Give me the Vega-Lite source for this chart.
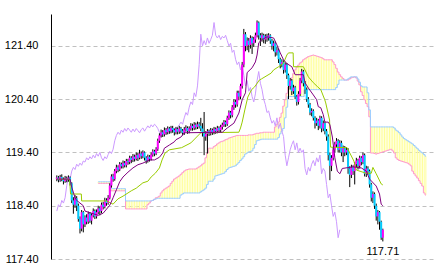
{
"$schema":"https://vega.github.io/schema/vega-lite/v6.json",
"width":384,"height":245,
"autosize":{"type":"none"},
"padding":{"left":51,"top":14,"right":0,"bottom":14},
"background":"#ffffff",
"config":{"view":{"stroke":null},
 "axisY":{"title":null,"grid":true,"gridColor":"#c0c0c0","gridDash":[4,3],"domainColor":"#000000","ticks":false,"labelPadding":13,"labelFont":"Liberation Sans","labelFontSize":11,"labelColor":"#000000"}},
"datasets":{
"k":[
{"i":0,"o":118.90,"h":118.97,"l":118.86,"c":118.93,"ch":118.30},
{"i":1,"o":118.93,"h":118.96,"l":118.84,"c":118.88,"ch":118.42},
{"i":2,"o":118.88,"h":118.98,"l":118.85,"c":118.94,"ch":118.38},
{"i":3,"o":118.94,"h":118.99,"l":118.86,"c":118.90,"ch":118.50},
{"i":4,"o":118.90,"h":118.93,"l":118.80,"c":118.86,"ch":118.45},
{"i":5,"o":118.86,"h":118.96,"l":118.83,"c":118.92,"ch":118.55},
{"i":6,"o":118.92,"h":118.95,"l":118.84,"c":118.89,"ch":118.78},
{"i":7,"o":118.89,"h":118.97,"l":118.85,"c":118.93,"ch":118.95},
{"i":8,"o":118.93,"h":118.95,"l":118.78,"c":118.82,"ch":118.90},
{"i":9,"o":118.82,"h":118.84,"l":118.45,"c":118.50,"ch":119.05},
{"i":10,"o":118.50,"h":118.56,"l":118.25,"c":118.42,"ch":119.12},
{"i":11,"o":118.42,"h":118.60,"l":118.36,"c":118.54,"ch":119.08},
{"i":12,"o":118.54,"h":118.58,"l":118.30,"c":118.40,"ch":119.18},
{"i":13,"o":118.40,"h":118.44,"l":118.10,"c":118.15,"ch":119.14},
{"i":14,"o":118.15,"h":118.20,"l":117.88,"c":117.97,"ch":119.20},
{"i":15,"o":117.97,"h":118.32,"l":117.92,"c":118.28,"ch":119.16},
{"i":16,"o":118.28,"h":118.30,"l":117.90,"c":118.05,"ch":119.24},
{"i":17,"o":118.05,"h":118.22,"l":118.00,"c":118.18,"ch":119.22},
{"i":18,"o":118.18,"h":118.24,"l":118.05,"c":118.10,"ch":119.30},
{"i":19,"o":118.10,"h":118.29,"l":118.06,"c":118.25,"ch":119.26},
{"i":20,"o":118.25,"h":118.28,"l":118.08,"c":118.12,"ch":119.32},
{"i":21,"o":118.12,"h":118.26,"l":118.05,"c":118.22,"ch":119.28},
{"i":22,"o":118.22,"h":118.35,"l":118.18,"c":118.30,"ch":119.35},
{"i":23,"o":118.30,"h":118.33,"l":118.15,"c":118.20,"ch":119.30},
{"i":24,"o":118.20,"h":118.33,"l":118.16,"c":118.28,"ch":119.38},
{"i":25,"o":118.28,"h":118.40,"l":118.24,"c":118.35,"ch":119.33},
{"i":26,"o":118.35,"h":118.39,"l":118.22,"c":118.30,"ch":119.40},
{"i":27,"o":118.30,"h":118.46,"l":118.26,"c":118.42,"ch":119.30},
{"i":28,"o":118.42,"h":118.47,"l":118.33,"c":118.38,"ch":119.25},
{"i":29,"o":118.38,"h":118.55,"l":118.35,"c":118.50,"ch":119.32},
{"i":30,"o":118.50,"h":118.54,"l":118.40,"c":118.45,"ch":119.28},
{"i":31,"o":118.45,"h":118.60,"l":118.42,"c":118.55,"ch":119.36},
{"i":32,"o":118.55,"h":118.82,"l":118.52,"c":118.78,"ch":119.42},
{"i":33,"o":118.78,"h":118.99,"l":118.74,"c":118.95,"ch":119.38},
{"i":34,"o":118.95,"h":119.00,"l":118.85,"c":118.90,"ch":119.46},
{"i":35,"o":118.90,"h":119.09,"l":118.87,"c":119.05,"ch":119.62},
{"i":36,"o":119.05,"h":119.17,"l":119.01,"c":119.12,"ch":119.72},
{"i":37,"o":119.12,"h":119.16,"l":119.03,"c":119.08,"ch":119.78},
{"i":38,"o":119.08,"h":119.22,"l":119.05,"c":119.18,"ch":119.74},
{"i":39,"o":119.18,"h":119.21,"l":119.10,"c":119.14,"ch":119.82},
{"i":40,"o":119.14,"h":119.25,"l":119.10,"c":119.20,"ch":119.78},
{"i":41,"o":119.20,"h":119.24,"l":119.12,"c":119.16,"ch":119.85},
{"i":42,"o":119.16,"h":119.28,"l":119.12,"c":119.24,"ch":119.80},
{"i":43,"o":119.24,"h":119.28,"l":119.17,"c":119.22,"ch":119.86},
{"i":44,"o":119.22,"h":119.34,"l":119.18,"c":119.30,"ch":119.82},
{"i":45,"o":119.30,"h":119.33,"l":119.20,"c":119.26,"ch":119.78},
{"i":46,"o":119.26,"h":119.37,"l":119.22,"c":119.32,"ch":119.84},
{"i":47,"o":119.32,"h":119.36,"l":119.23,"c":119.28,"ch":119.79},
{"i":48,"o":119.28,"h":119.40,"l":119.25,"c":119.35,"ch":119.85},
{"i":49,"o":119.35,"h":119.39,"l":119.24,"c":119.30,"ch":119.81},
{"i":50,"o":119.30,"h":119.45,"l":119.27,"c":119.38,"ch":119.77},
{"i":51,"o":119.38,"h":119.42,"l":119.28,"c":119.33,"ch":119.83},
{"i":52,"o":119.33,"h":119.44,"l":119.29,"c":119.40,"ch":119.86},
{"i":53,"o":119.40,"h":119.42,"l":119.25,"c":119.30,"ch":119.80},
{"i":54,"o":119.30,"h":119.33,"l":119.19,"c":119.25,"ch":119.85},
{"i":55,"o":119.25,"h":119.36,"l":119.21,"c":119.32,"ch":119.90},
{"i":56,"o":119.32,"h":119.35,"l":119.23,"c":119.28,"ch":119.86},
{"i":57,"o":119.28,"h":119.40,"l":119.25,"c":119.36,"ch":119.92},
{"i":58,"o":119.36,"h":119.46,"l":119.32,"c":119.42,"ch":119.88},
{"i":59,"o":119.42,"h":119.45,"l":119.33,"c":119.38,"ch":119.93},
{"i":60,"o":119.38,"h":119.50,"l":119.35,"c":119.46,"ch":119.90},
{"i":61,"o":119.46,"h":119.66,"l":119.43,"c":119.62,"ch":119.85},
{"i":62,"o":119.62,"h":119.76,"l":119.58,"c":119.72,"ch":119.78},
{"i":63,"o":119.72,"h":119.83,"l":119.68,"c":119.78,"ch":119.70},
{"i":64,"o":119.78,"h":119.82,"l":119.69,"c":119.74,"ch":119.75},
{"i":65,"o":119.74,"h":119.87,"l":119.70,"c":119.82,"ch":119.80},
{"i":66,"o":119.82,"h":119.86,"l":119.73,"c":119.78,"ch":119.76},
{"i":67,"o":119.78,"h":119.89,"l":119.74,"c":119.85,"ch":119.82},
{"i":68,"o":119.85,"h":119.88,"l":119.75,"c":119.80,"ch":119.78},
{"i":69,"o":119.80,"h":119.90,"l":119.76,"c":119.86,"ch":119.84},
{"i":70,"o":119.86,"h":119.90,"l":119.77,"c":119.82,"ch":119.80},
{"i":71,"o":119.82,"h":119.85,"l":119.72,"c":119.78,"ch":119.86},
{"i":72,"o":119.78,"h":119.88,"l":119.74,"c":119.84,"ch":119.82},
{"i":73,"o":119.84,"h":119.87,"l":119.74,"c":119.79,"ch":119.88},
{"i":74,"o":119.79,"h":119.90,"l":119.75,"c":119.85,"ch":119.92},
{"i":75,"o":119.85,"h":119.88,"l":119.76,"c":119.81,"ch":119.97},
{"i":76,"o":119.81,"h":119.84,"l":119.72,"c":119.77,"ch":119.93},
{"i":77,"o":119.77,"h":119.88,"l":119.73,"c":119.83,"ch":120.05},
{"i":78,"o":119.83,"h":119.91,"l":119.79,"c":119.86,"ch":120.15},
{"i":79,"o":119.86,"h":119.89,"l":119.75,"c":119.80,"ch":120.10},
{"i":80,"o":119.80,"h":119.89,"l":119.76,"c":119.85,"ch":120.25},
{"i":81,"o":119.85,"h":119.95,"l":119.81,"c":119.90,"ch":120.35},
{"i":82,"o":119.90,"h":119.94,"l":119.81,"c":119.86,"ch":120.30},
{"i":83,"o":119.86,"h":119.97,"l":119.82,"c":119.92,"ch":120.52},
{"i":84,"o":119.92,"h":119.96,"l":119.83,"c":119.88,"ch":120.45},
{"i":85,"o":119.88,"h":119.98,"l":119.84,"c":119.93,"ch":120.65},
{"i":86,"o":119.93,"h":119.97,"l":119.85,"c":119.90,"ch":121.05},
{"i":87,"o":119.90,"h":120.05,"l":119.80,"c":119.85,"ch":121.62},
{"i":88,"o":119.85,"h":119.95,"l":119.70,"c":119.78,"ch":121.40},
{"i":89,"o":119.78,"h":120.16,"l":119.35,"c":119.70,"ch":121.50},
{"i":90,"o":119.70,"h":119.80,"l":119.62,"c":119.75,"ch":121.42},
{"i":91,"o":119.75,"h":119.84,"l":119.38,"c":119.80,"ch":121.55},
{"i":92,"o":119.80,"h":119.83,"l":119.71,"c":119.76,"ch":121.45},
{"i":93,"o":119.76,"h":119.86,"l":119.72,"c":119.82,"ch":121.52},
{"i":94,"o":119.82,"h":119.85,"l":119.73,"c":119.78,"ch":121.60},
{"i":95,"o":119.78,"h":119.88,"l":119.74,"c":119.84,"ch":121.84},
{"i":96,"o":119.84,"h":119.87,"l":119.75,"c":119.80,"ch":121.60},
{"i":97,"o":119.80,"h":119.90,"l":119.76,"c":119.86,"ch":121.55},
{"i":98,"o":119.86,"h":119.89,"l":119.77,"c":119.82,"ch":121.60},
{"i":99,"o":119.82,"h":119.92,"l":119.78,"c":119.88,"ch":121.52},
{"i":100,"o":119.88,"h":119.96,"l":119.83,"c":119.92,"ch":121.58},
{"i":101,"o":119.92,"h":120.01,"l":119.88,"c":119.97,"ch":121.55},
{"i":102,"o":119.97,"h":120.00,"l":119.88,"c":119.93,"ch":121.60},
{"i":103,"o":119.93,"h":120.09,"l":119.90,"c":120.05,"ch":121.50},
{"i":104,"o":120.05,"h":120.19,"l":120.01,"c":120.15,"ch":121.40},
{"i":105,"o":120.15,"h":120.18,"l":120.04,"c":120.10,"ch":121.45},
{"i":106,"o":120.10,"h":120.29,"l":120.06,"c":120.25,"ch":121.28},
{"i":107,"o":120.25,"h":120.40,"l":120.20,"c":120.35,"ch":121.32},
{"i":108,"o":120.35,"h":120.39,"l":120.24,"c":120.30,"ch":121.15},
{"i":109,"o":120.30,"h":120.56,"l":120.26,"c":120.52,"ch":121.05},
{"i":110,"o":120.52,"h":120.56,"l":120.38,"c":120.45,"ch":121.10},
{"i":111,"o":120.45,"h":120.69,"l":120.40,"c":120.65,"ch":120.95},
{"i":112,"o":120.65,"h":121.10,"l":120.60,"c":121.05,"ch":121.05},
{"i":113,"o":121.05,"h":121.72,"l":121.00,"c":121.62,"ch":120.85},
{"i":114,"o":121.62,"h":121.66,"l":121.30,"c":121.40,"ch":120.65},
{"i":115,"o":121.40,"h":121.56,"l":121.32,"c":121.50,"ch":120.75},
{"i":116,"o":121.50,"h":121.55,"l":121.28,"c":121.42,"ch":120.55},
{"i":117,"o":121.42,"h":121.60,"l":121.35,"c":121.55,"ch":120.62},
{"i":118,"o":121.55,"h":121.58,"l":121.25,"c":121.45,"ch":120.45},
{"i":119,"o":121.45,"h":121.57,"l":121.38,"c":121.52,"ch":120.35},
{"i":120,"o":121.52,"h":121.65,"l":121.46,"c":121.60,"ch":120.50},
{"i":121,"o":121.60,"h":121.88,"l":121.56,"c":121.84,"ch":120.75},
{"i":122,"o":121.84,"h":121.86,"l":121.52,"c":121.60,"ch":120.92},
{"i":123,"o":121.60,"h":121.64,"l":121.40,"c":121.55,"ch":120.70},
{"i":124,"o":121.55,"h":121.65,"l":121.48,"c":121.60,"ch":120.58},
{"i":125,"o":121.60,"h":121.63,"l":121.45,"c":121.52,"ch":120.40},
{"i":126,"o":121.52,"h":121.62,"l":121.44,"c":121.58,"ch":120.30},
{"i":127,"o":121.58,"h":121.63,"l":121.48,"c":121.55,"ch":120.15},
{"i":128,"o":121.55,"h":121.64,"l":121.50,"c":121.60,"ch":120.18},
{"i":129,"o":121.60,"h":121.62,"l":121.44,"c":121.50,"ch":120.05},
{"i":130,"o":121.50,"h":121.53,"l":121.33,"c":121.40,"ch":119.95},
{"i":131,"o":121.40,"h":121.50,"l":121.30,"c":121.45,"ch":120.00},
{"i":132,"o":121.45,"h":121.48,"l":121.20,"c":121.28,"ch":119.90},
{"i":133,"o":121.28,"h":121.38,"l":121.22,"c":121.32,"ch":120.05},
{"i":134,"o":121.32,"h":121.35,"l":121.08,"c":121.15,"ch":119.85},
{"i":135,"o":121.15,"h":121.18,"l":120.98,"c":121.05,"ch":119.95},
{"i":136,"o":121.05,"h":121.15,"l":121.00,"c":121.10,"ch":119.80},
{"i":137,"o":121.10,"h":121.13,"l":120.88,"c":120.95,"ch":119.70},
{"i":138,"o":120.95,"h":121.09,"l":120.90,"c":121.05,"ch":119.35},
{"i":139,"o":121.05,"h":121.08,"l":120.78,"c":120.85,"ch":119.15},
{"i":140,"o":120.85,"h":120.88,"l":120.40,"c":120.65,"ch":119.30},
{"i":141,"o":120.65,"h":120.80,"l":120.58,"c":120.75,"ch":119.45},
{"i":142,"o":120.75,"h":120.78,"l":120.48,"c":120.55,"ch":119.55},
{"i":143,"o":120.55,"h":120.67,"l":120.50,"c":120.62,"ch":119.62},
{"i":144,"o":120.62,"h":120.65,"l":120.40,"c":120.45,"ch":119.45},
{"i":145,"o":120.45,"h":120.48,"l":120.28,"c":120.35,"ch":119.58},
{"i":146,"o":120.35,"h":120.55,"l":120.30,"c":120.50,"ch":119.40},
{"i":147,"o":120.50,"h":120.80,"l":120.46,"c":120.75,"ch":119.48},
{"i":148,"o":120.75,"h":120.97,"l":120.70,"c":120.92,"ch":119.40},
{"i":149,"o":120.92,"h":120.95,"l":120.64,"c":120.70,"ch":119.45},
{"i":150,"o":120.70,"h":120.74,"l":120.50,"c":120.58,"ch":119.10},
{"i":151,"o":120.58,"h":120.62,"l":120.35,"c":120.40,"ch":118.98},
{"i":152,"o":120.40,"h":120.44,"l":120.24,"c":120.30,"ch":119.12},
{"i":153,"o":120.30,"h":120.33,"l":120.10,"c":120.15,"ch":119.05},
{"i":154,"o":120.15,"h":120.23,"l":120.08,"c":120.18,"ch":119.18},
{"i":155,"o":120.18,"h":120.21,"l":120.00,"c":120.05,"ch":119.25},
{"i":156,"o":120.05,"h":120.08,"l":119.85,"c":119.95,"ch":119.15},
{"i":157,"o":119.95,"h":120.05,"l":119.90,"c":120.00,"ch":119.30},
{"i":158,"o":120.00,"h":120.03,"l":119.82,"c":119.90,"ch":119.22},
{"i":159,"o":119.90,"h":120.09,"l":119.85,"c":120.05,"ch":119.35},
{"i":160,"o":120.05,"h":120.08,"l":119.78,"c":119.85,"ch":119.00},
{"i":161,"o":119.85,"h":120.00,"l":119.80,"c":119.95,"ch":119.10},
{"i":162,"o":119.95,"h":119.98,"l":119.74,"c":119.80,"ch":119.05},
{"i":163,"o":119.80,"h":119.84,"l":119.62,"c":119.70,"ch":118.80},
{"i":164,"o":119.70,"h":119.74,"l":119.25,"c":119.35,"ch":118.55},
{"i":165,"o":119.35,"h":119.40,"l":118.88,"c":119.15,"ch":118.62},
{"i":166,"o":119.15,"h":119.35,"l":119.05,"c":119.30,"ch":118.40},
{"i":167,"o":119.30,"h":119.50,"l":119.25,"c":119.45,"ch":118.20},
{"i":168,"o":119.45,"h":119.60,"l":119.40,"c":119.55,"ch":118.28},
{"i":169,"o":119.55,"h":119.67,"l":119.50,"c":119.62,"ch":118.10},
{"i":170,"o":119.62,"h":119.65,"l":119.40,"c":119.45,"ch":117.80},
{"i":171,"o":119.45,"h":119.63,"l":119.40,"c":119.58,"ch":117.95},
{"i":172,"o":119.58,"h":119.62,"l":119.33,"c":119.40},
{"i":173,"o":119.40,"h":119.53,"l":119.22,"c":119.48},
{"i":174,"o":119.48,"h":119.52,"l":119.33,"c":119.40},
{"i":175,"o":119.40,"h":119.50,"l":119.35,"c":119.45},
{"i":176,"o":119.45,"h":119.48,"l":119.00,"c":119.10},
{"i":177,"o":119.10,"h":119.14,"l":118.75,"c":118.98},
{"i":178,"o":118.98,"h":119.17,"l":118.92,"c":119.12},
{"i":179,"o":119.12,"h":119.16,"l":118.98,"c":119.05},
{"i":180,"o":119.05,"h":119.22,"l":118.80,"c":119.18},
{"i":181,"o":119.18,"h":119.30,"l":119.12,"c":119.25},
{"i":182,"o":119.25,"h":119.28,"l":119.08,"c":119.15},
{"i":183,"o":119.15,"h":119.34,"l":119.10,"c":119.30},
{"i":184,"o":119.30,"h":119.33,"l":119.16,"c":119.22},
{"i":185,"o":119.22,"h":119.40,"l":119.18,"c":119.35},
{"i":186,"o":119.35,"h":119.38,"l":118.95,"c":119.00},
{"i":187,"o":119.00,"h":119.15,"l":118.94,"c":119.10},
{"i":188,"o":119.10,"h":119.14,"l":118.98,"c":119.05},
{"i":189,"o":119.05,"h":119.08,"l":118.74,"c":118.80},
{"i":190,"o":118.80,"h":118.83,"l":118.48,"c":118.55},
{"i":191,"o":118.55,"h":118.67,"l":118.45,"c":118.62},
{"i":192,"o":118.62,"h":118.65,"l":118.34,"c":118.40},
{"i":193,"o":118.40,"h":118.44,"l":118.12,"c":118.20},
{"i":194,"o":118.20,"h":118.32,"l":118.05,"c":118.28},
{"i":195,"o":118.28,"h":118.30,"l":117.95,"c":118.10},
{"i":196,"o":118.10,"h":118.12,"l":117.76,"c":117.80},
{"i":197,"o":117.80,"h":117.97,"l":117.73,"c":117.95}
],
"cl":[
{"i":25,"a":118.82,"b":118.85},{"i":26,"a":118.82,"b":118.85},{"i":27,"a":118.82,"b":118.85},{"i":28,"a":118.82,"b":118.85},
{"i":29,"a":118.82,"b":118.85},{"i":30,"a":118.82,"b":118.85},{"i":31,"a":118.82,"b":118.85},{"i":32,"a":118.82,"b":118.85},
{"i":33,"a":118.68,"b":118.72},{"i":34,"a":118.68,"b":118.72},{"i":35,"a":118.68,"b":118.72},{"i":36,"a":118.68,"b":118.72},
{"i":37,"a":118.68,"b":118.72},{"i":38,"a":118.68,"b":118.72},{"i":39,"a":118.68,"b":118.72},{"i":40,"a":118.68,"b":118.72},
{"i":41,"a":118.68,"b":118.72},
{"i":42,"a":118.34,"b":118.49},{"i":43,"a":118.34,"b":118.49},{"i":44,"a":118.34,"b":118.49},{"i":45,"a":118.34,"b":118.49},
{"i":46,"a":118.34,"b":118.49},{"i":47,"a":118.34,"b":118.49},{"i":48,"a":118.34,"b":118.49},{"i":49,"a":118.34,"b":118.49},
{"i":50,"a":118.34,"b":118.49},{"i":51,"a":118.34,"b":118.49},{"i":52,"a":118.34,"b":118.49},{"i":53,"a":118.34,"b":118.49},
{"i":54,"a":118.34,"b":118.49},
{"i":55,"a":118.42,"b":118.49},{"i":56,"a":118.45,"b":118.49},{"i":57,"a":118.49,"b":118.49},{"i":58,"a":118.50,"b":118.50},
{"i":59,"a":118.52,"b":118.52},{"i":60,"a":118.55,"b":118.53},{"i":61,"a":118.56,"b":118.54},{"i":62,"a":118.58,"b":118.54},
{"i":63,"a":118.64,"b":118.54},{"i":64,"a":118.68,"b":118.54},{"i":65,"a":118.71,"b":118.54},{"i":66,"a":118.73,"b":118.54},
{"i":67,"a":118.75,"b":118.54},{"i":68,"a":118.77,"b":118.54},{"i":69,"a":118.82,"b":118.54},{"i":70,"a":118.86,"b":118.54},
{"i":71,"a":118.90,"b":118.54},{"i":72,"a":118.92,"b":118.54},{"i":73,"a":118.94,"b":118.54},{"i":74,"a":118.96,"b":118.54},
{"i":75,"a":118.99,"b":118.60},{"i":76,"a":119.02,"b":118.62},{"i":77,"a":119.05,"b":118.64},{"i":78,"a":119.07,"b":118.64},
{"i":79,"a":119.08,"b":118.64},{"i":80,"a":119.09,"b":118.64},{"i":81,"a":119.09,"b":118.64},{"i":82,"a":119.09,"b":118.64},
{"i":83,"a":119.09,"b":118.64},{"i":84,"a":119.09,"b":118.64},{"i":85,"a":119.11,"b":118.64},{"i":86,"a":119.13,"b":118.64},
{"i":87,"a":119.15,"b":118.66},{"i":88,"a":119.18,"b":118.68},{"i":89,"a":119.20,"b":118.70},{"i":90,"a":119.30,"b":118.73},
{"i":91,"a":119.39,"b":118.80},{"i":92,"a":119.48,"b":118.86},{"i":93,"a":119.48,"b":118.86},{"i":94,"a":119.48,"b":118.86},
{"i":95,"a":119.51,"b":118.90},{"i":96,"a":119.53,"b":118.96},{"i":97,"a":119.56,"b":118.97},{"i":98,"a":119.58,"b":118.98},
{"i":99,"a":119.60,"b":118.99},{"i":100,"a":119.61,"b":119.00},{"i":101,"a":119.62,"b":119.01},{"i":102,"a":119.64,"b":119.04},
{"i":103,"a":119.65,"b":119.08},{"i":104,"a":119.67,"b":119.11},{"i":105,"a":119.68,"b":119.12},{"i":106,"a":119.69,"b":119.13},
{"i":107,"a":119.70,"b":119.14},{"i":108,"a":119.71,"b":119.15},{"i":109,"a":119.72,"b":119.18},{"i":110,"a":119.72,"b":119.21},
{"i":111,"a":119.72,"b":119.25},{"i":112,"a":119.72,"b":119.28},{"i":113,"a":119.72,"b":119.32},{"i":114,"a":119.72,"b":119.37},
{"i":115,"a":119.72,"b":119.39},{"i":116,"a":119.73,"b":119.41},{"i":117,"a":119.73,"b":119.42},{"i":118,"a":119.73,"b":119.43},
{"i":119,"a":119.74,"b":119.48},{"i":120,"a":119.75,"b":119.55},{"i":121,"a":119.76,"b":119.62},{"i":122,"a":119.76,"b":119.63},
{"i":123,"a":119.77,"b":119.64},{"i":124,"a":119.77,"b":119.65},{"i":125,"a":119.78,"b":119.65},{"i":126,"a":119.78,"b":119.65},
{"i":127,"a":119.78,"b":119.65},{"i":128,"a":119.78,"b":119.65},{"i":129,"a":119.78,"b":119.65},{"i":130,"a":119.78,"b":119.65},
{"i":131,"a":119.78,"b":119.65},{"i":132,"a":119.88,"b":119.65},{"i":133,"a":119.93,"b":119.65},{"i":134,"a":119.97,"b":119.68},
{"i":135,"a":120.06,"b":119.75},{"i":136,"a":120.14,"b":119.80},{"i":137,"a":120.27,"b":119.85},{"i":138,"a":120.39,"b":120.05},
{"i":139,"a":120.51,"b":120.25},{"i":140,"a":120.63,"b":120.45},{"i":141,"a":120.72,"b":120.45},{"i":142,"a":120.80,"b":120.45},
{"i":143,"a":120.88,"b":120.45},{"i":144,"a":120.95,"b":120.45},{"i":145,"a":121.00,"b":120.45},{"i":146,"a":121.04,"b":120.45},
{"i":147,"a":121.08,"b":120.45},{"i":148,"a":121.10,"b":120.45},{"i":149,"a":121.14,"b":120.45},{"i":150,"a":121.16,"b":120.58},
{"i":151,"a":121.18,"b":120.58},{"i":152,"a":121.20,"b":120.58},{"i":153,"a":121.21,"b":120.58},{"i":154,"a":121.22,"b":120.58},
{"i":155,"a":121.23,"b":120.58},{"i":156,"a":121.22,"b":120.58},{"i":157,"a":121.21,"b":120.58},{"i":158,"a":121.20,"b":120.58},
{"i":159,"a":121.19,"b":120.58},{"i":160,"a":121.18,"b":120.58},{"i":161,"a":121.16,"b":120.58},{"i":162,"a":121.14,"b":120.58},
{"i":163,"a":121.14,"b":120.58},{"i":164,"a":121.14,"b":120.58},{"i":165,"a":121.14,"b":120.58},{"i":166,"a":121.14,"b":120.58},
{"i":167,"a":121.10,"b":120.58},{"i":168,"a":121.05,"b":120.58},{"i":169,"a":120.98,"b":120.62},{"i":170,"a":120.91,"b":120.68},
{"i":171,"a":120.86,"b":120.76},{"i":172,"a":120.82,"b":120.76},{"i":173,"a":120.79,"b":120.76},{"i":174,"a":120.76,"b":120.76},
{"i":175,"a":120.76,"b":120.76},{"i":176,"a":120.76,"b":120.78},{"i":177,"a":120.78,"b":120.80},{"i":178,"a":120.80,"b":120.82},
{"i":179,"a":120.81,"b":120.82},{"i":180,"a":120.82,"b":120.82},{"i":181,"a":120.80,"b":120.82},{"i":182,"a":120.74,"b":120.78},
{"i":183,"a":120.67,"b":120.72},{"i":184,"a":120.54,"b":120.65},{"i":185,"a":120.47,"b":120.63},{"i":186,"a":120.39,"b":120.63},
{"i":187,"a":120.32,"b":120.63},{"i":188,"a":120.26,"b":120.52},{"i":189,"a":120.07,"b":120.20},{"i":190,"a":119.39,"b":119.88},
{"i":191,"a":119.39,"b":119.88},{"i":192,"a":119.38,"b":119.88},{"i":193,"a":119.37,"b":119.88},{"i":194,"a":119.38,"b":119.88},
{"i":195,"a":119.39,"b":119.88},{"i":196,"a":119.40,"b":119.88},{"i":197,"a":119.41,"b":119.88},{"i":198,"a":119.42,"b":119.88},
{"i":199,"a":119.43,"b":119.88},{"i":200,"a":119.44,"b":119.88},{"i":201,"a":119.45,"b":119.88},{"i":202,"a":119.46,"b":119.88},
{"i":203,"a":119.43,"b":119.88},{"i":204,"a":119.39,"b":119.86},{"i":205,"a":119.30,"b":119.82},{"i":206,"a":119.27,"b":119.80},
{"i":207,"a":119.25,"b":119.77},{"i":208,"a":119.24,"b":119.73},{"i":209,"a":119.23,"b":119.69},{"i":210,"a":119.22,"b":119.66},
{"i":211,"a":119.21,"b":119.64},{"i":212,"a":119.20,"b":119.62},{"i":213,"a":119.18,"b":119.60},{"i":214,"a":119.15,"b":119.58},
{"i":215,"a":119.05,"b":119.56},{"i":216,"a":119.00,"b":119.53},{"i":217,"a":118.96,"b":119.50},{"i":218,"a":118.92,"b":119.47},
{"i":219,"a":118.87,"b":119.44},{"i":220,"a":118.82,"b":119.41},{"i":221,"a":118.77,"b":119.39},{"i":222,"a":118.64,"b":119.36},
{"i":223,"a":118.60,"b":119.33}
],
"tk":[
{"i":0,"v":118.90},{"i":8,"v":118.90},{"i":9,"v":118.75},{"i":11,"v":118.55},{"i":12,"v":118.50},{"i":16,"v":118.40},{"i":17,"v":118.30},
{"i":25,"v":118.22},{"i":28,"v":118.26},{"i":32,"v":118.41},{"i":34,"v":118.55},{"i":36,"v":118.70},{"i":38,"v":118.85},{"i":40,"v":118.94},
{"i":43,"v":119.03},{"i":46,"v":119.11},{"i":49,"v":119.17},{"i":52,"v":119.20},{"i":56,"v":119.26},{"i":59,"v":119.26},{"i":62,"v":119.31},
{"i":64,"v":119.39},{"i":65,"v":119.48},{"i":68,"v":119.54},{"i":71,"v":119.60},{"i":72,"v":119.64},{"i":75,"v":119.69},{"i":77,"v":119.77},
{"i":100,"v":119.78},{"i":103,"v":119.86},{"i":107,"v":119.95},{"i":110,"v":120.14},{"i":112,"v":120.39},{"i":114,"v":120.52},{"i":115,"v":120.90},
{"i":118,"v":120.99},{"i":120,"v":121.10},{"i":121,"v":121.23},{"i":122,"v":121.46},{"i":124,"v":121.52},{"i":127,"v":121.57},{"i":131,"v":121.55},
{"i":133,"v":121.42},{"i":135,"v":121.27},{"i":137,"v":121.14},{"i":139,"v":121.07},{"i":142,"v":121.01},{"i":144,"v":120.86},{"i":149,"v":120.86},
{"i":150,"v":120.71},{"i":152,"v":120.61},{"i":155,"v":120.48},{"i":157,"v":120.39},{"i":158,"v":120.26},{"i":159.5,"v":120.24},{"i":161,"v":120.11},
{"i":162,"v":119.97},{"i":164,"v":119.97},{"i":165,"v":119.92},{"i":166.5,"v":119.69},{"i":168,"v":119.30},{"i":169.5,"v":119.05},{"i":171,"v":119.00},
{"i":172.5,"v":119.10},{"i":179,"v":119.13},{"i":184,"v":119.11},{"i":187,"v":119.05},{"i":189,"v":118.90},{"i":193,"v":118.77},{"i":195,"v":118.62},
{"i":196,"v":118.43},{"i":197,"v":118.40}
],
"kj":[
{"i":0,"v":118.90},{"i":7.7,"v":118.90},{"i":8.3,"v":118.62},{"i":14.8,"v":118.62},{"i":15,"v":118.49},{"i":30,"v":118.49},{"i":34,"v":118.43},
{"i":37,"v":118.53},{"i":40,"v":118.58},{"i":45,"v":118.68},{"i":48,"v":118.73},{"i":52,"v":118.83},{"i":55,"v":118.86},{"i":57,"v":118.94},
{"i":59.5,"v":119.01},{"i":62,"v":119.11},{"i":63.6,"v":119.26},{"i":65.4,"v":119.39},{"i":68,"v":119.45},{"i":75.4,"v":119.49},{"i":81,"v":119.58},
{"i":87,"v":119.77},{"i":110,"v":119.78},{"i":111,"v":119.86},{"i":112,"v":119.97},{"i":113.6,"v":120.20},{"i":115.4,"v":120.44},{"i":117.7,"v":120.58},
{"i":119.5,"v":120.63},{"i":122.4,"v":120.76},{"i":123.6,"v":120.78},{"i":129.5,"v":120.89},{"i":131,"v":120.95},{"i":134,"v":121.01},{"i":137,"v":121.08},
{"i":139,"v":121.23},{"i":140,"v":121.27},{"i":142.8,"v":121.27},{"i":143,"v":121.01},{"i":149,"v":121.01},{"i":152,"v":120.82},{"i":155,"v":120.71},
{"i":157.7,"v":120.63},{"i":159.5,"v":120.58},{"i":161.9,"v":120.39},{"i":162.5,"v":120.33},{"i":164.8,"v":120.01},{"i":165.4,"v":119.50},{"i":175.4,"v":119.49},
{"i":179.5,"v":119.24},{"i":181,"v":119.07},{"i":187,"v":119.01},{"i":190,"v":119.01},{"i":191,"v":119.12},{"i":193,"v":119.00},{"i":196,"v":118.81},
{"i":197,"v":118.79}
],
"lb":[{"i":197,"v":117.71,"t":"117.71"}]
},
"layer":[
{"data":{"name":"cl"},"mark":{"type":"rule","color":"#ffff99","strokeWidth":1},
 "encoding":{
  "x":{"field":"i","type":"quantitative","scale":{"domain":[-0.5,225.5],"nice":false,"zero":false},"axis":null},
  "y":{"field":"a","type":"quantitative","title":null,"scale":{"domain":[117.4,122],"nice":false,"zero":false},
       "axis":{"values":[117.4,118.4,119.4,120.4,121.4],"format":".2f"}},
  "y2":{"field":"b"}}},
{"data":{"name":"cl"},"mark":{"type":"line","color":"#ff99cc","strokeWidth":1,"interpolate":"step"},
 "encoding":{
  "x":{"field":"i","type":"quantitative","scale":{"domain":[-0.5,225.5],"nice":false,"zero":false},"axis":null},
  "y":{"field":"a","type":"quantitative","title":null,"scale":{"domain":[117.4,122],"nice":false,"zero":false},"axis":{"values":[117.4,118.4,119.4,120.4,121.4],"format":".2f"}}}},
{"data":{"name":"cl"},"mark":{"type":"line","color":"#99ccff","strokeWidth":1,"interpolate":"step"},
 "encoding":{
  "x":{"field":"i","type":"quantitative","scale":{"domain":[-0.5,225.5],"nice":false,"zero":false},"axis":null},
  "y":{"field":"b","type":"quantitative","title":null,"scale":{"domain":[117.4,122],"nice":false,"zero":false},"axis":{"values":[117.4,118.4,119.4,120.4,121.4],"format":".2f"}}}},
{"data":{"name":"k"},"mark":{"type":"line","color":"#cc99ff","strokeWidth":1},
 "encoding":{
  "x":{"field":"i","type":"quantitative","scale":{"domain":[-0.5,225.5],"nice":false,"zero":false},"axis":null},
  "y":{"field":"ch","type":"quantitative","title":null,"scale":{"domain":[117.4,122],"nice":false,"zero":false},"axis":{"values":[117.4,118.4,119.4,120.4,121.4],"format":".2f"}}}},
{"data":{"name":"k"},"mark":{"type":"rule","color":"#000000","strokeWidth":1},
 "encoding":{
  "x":{"field":"i","type":"quantitative","scale":{"domain":[-0.5,225.5],"nice":false,"zero":false},"axis":null},
  "y":{"field":"l","type":"quantitative","title":null,"scale":{"domain":[117.4,122],"nice":false,"zero":false},"axis":{"values":[117.4,118.4,119.4,120.4,121.4],"format":".2f"}},
  "y2":{"field":"h"}}},
{"data":{"name":"k"},"mark":{"type":"bar","size":2},
 "encoding":{
  "x":{"field":"i","type":"quantitative","scale":{"domain":[-0.5,225.5],"nice":false,"zero":false},"axis":null},
  "y":{"field":"o","type":"quantitative","title":null,"scale":{"domain":[117.4,122],"nice":false,"zero":false},"axis":{"values":[117.4,118.4,119.4,120.4,121.4],"format":".2f"}},
  "y2":{"field":"c"},
  "color":{"condition":{"test":"datum.c >= datum.o","value":"#ff00ff"},"value":"#00ccff"}}},
{"data":{"name":"kj"},"mark":{"type":"line","color":"#99cc00","strokeWidth":1},
 "encoding":{
  "x":{"field":"i","type":"quantitative","scale":{"domain":[-0.5,225.5],"nice":false,"zero":false},"axis":null},
  "y":{"field":"v","type":"quantitative","title":null,"scale":{"domain":[117.4,122],"nice":false,"zero":false},"axis":{"values":[117.4,118.4,119.4,120.4,121.4],"format":".2f"}}}},
{"data":{"name":"tk"},"mark":{"type":"line","color":"#800080","strokeWidth":1},
 "encoding":{
  "x":{"field":"i","type":"quantitative","scale":{"domain":[-0.5,225.5],"nice":false,"zero":false},"axis":null},
  "y":{"field":"v","type":"quantitative","title":null,"scale":{"domain":[117.4,122],"nice":false,"zero":false},"axis":{"values":[117.4,118.4,119.4,120.4,121.4],"format":".2f"}}}},
{"data":{"name":"lb"},"mark":{"type":"text","baseline":"top","align":"center","dy":4,"font":"Liberation Sans","fontSize":11,"color":"#000000"},
 "encoding":{
  "x":{"field":"i","type":"quantitative","scale":{"domain":[-0.5,225.5],"nice":false,"zero":false},"axis":null},
  "y":{"field":"v","type":"quantitative","title":null,"scale":{"domain":[117.4,122],"nice":false,"zero":false},"axis":{"values":[117.4,118.4,119.4,120.4,121.4],"format":".2f"}},
  "text":{"field":"t"}}}
]
}
